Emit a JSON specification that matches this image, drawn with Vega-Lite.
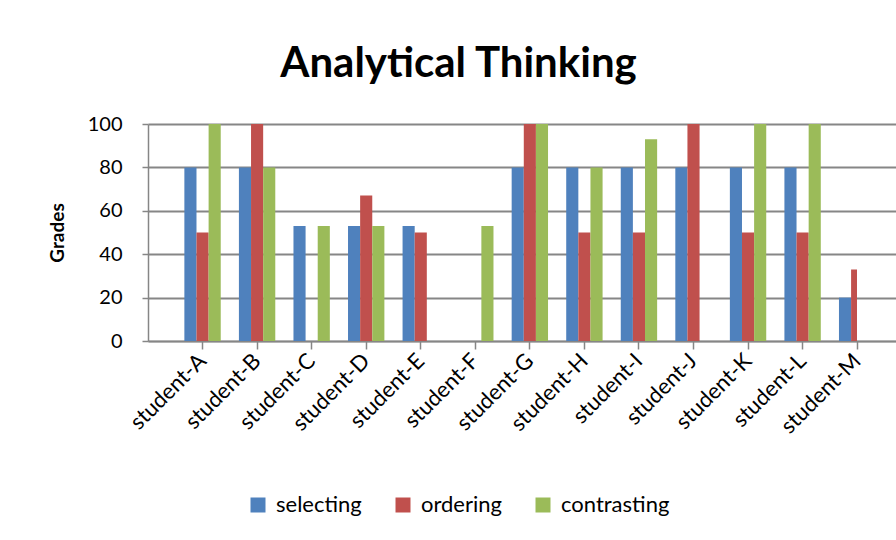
{
  "$schema": "https://vega.github.io/schema/vega-lite/v6.json",
  "autosize": {"type": "none"},
  "width": 709,
  "height": 217,
  "padding": {"left": 148, "top": 124, "right": 39, "bottom": 199},
  "background": "white",
  "title": {
    "text": "Analytical Thinking",
    "font": "Lato",
    "fontSize": 42,
    "fontWeight": "bold",
    "color": "#000000",
    "anchor": "middle",
    "frame": "group",
    "dx": -44,
    "offset": 28
  },
  "data": {
    "values": [
      {"student": "student-A", "measure": "selecting", "grade": 80},
      {"student": "student-A", "measure": "ordering", "grade": 50},
      {"student": "student-A", "measure": "contrasting", "grade": 100},
      {"student": "student-B", "measure": "selecting", "grade": 80},
      {"student": "student-B", "measure": "ordering", "grade": 100},
      {"student": "student-B", "measure": "contrasting", "grade": 80},
      {"student": "student-C", "measure": "selecting", "grade": 53},
      {"student": "student-C", "measure": "contrasting", "grade": 53},
      {"student": "student-D", "measure": "selecting", "grade": 53},
      {"student": "student-D", "measure": "ordering", "grade": 67},
      {"student": "student-D", "measure": "contrasting", "grade": 53},
      {"student": "student-E", "measure": "selecting", "grade": 53},
      {"student": "student-E", "measure": "ordering", "grade": 50},
      {"student": "student-F", "measure": "contrasting", "grade": 53},
      {"student": "student-G", "measure": "selecting", "grade": 80},
      {"student": "student-G", "measure": "ordering", "grade": 100},
      {"student": "student-G", "measure": "contrasting", "grade": 100},
      {"student": "student-H", "measure": "selecting", "grade": 80},
      {"student": "student-H", "measure": "ordering", "grade": 50},
      {"student": "student-H", "measure": "contrasting", "grade": 80},
      {"student": "student-I", "measure": "selecting", "grade": 80},
      {"student": "student-I", "measure": "ordering", "grade": 50},
      {"student": "student-I", "measure": "contrasting", "grade": 93},
      {"student": "student-J", "measure": "selecting", "grade": 80},
      {"student": "student-J", "measure": "ordering", "grade": 100},
      {"student": "student-K", "measure": "selecting", "grade": 80},
      {"student": "student-K", "measure": "ordering", "grade": 50},
      {"student": "student-K", "measure": "contrasting", "grade": 100},
      {"student": "student-L", "measure": "selecting", "grade": 80},
      {"student": "student-L", "measure": "ordering", "grade": 50},
      {"student": "student-L", "measure": "contrasting", "grade": 100},
      {"student": "student-M", "measure": "selecting", "grade": 20},
      {"student": "student-M", "measure": "ordering", "grade": 33}
    ]
  },
  "mark": {"type": "bar", "clip": true},
  "encoding": {
    "x": {
      "field": "student",
      "type": "nominal",
      "sort": null,
      "scale": {"type": "band", "paddingInner": 0, "paddingOuter": 0.5, "range": [0, 763.7]},
      "axis": {
        "title": null,
        "labelAngle": -45,
        "labelAlign": "right",
        "labelBaseline": "middle",
        "labelFont": "Lato",
        "labelFontSize": 22,
        "labelColor": "#000000",
        "labelPadding": 8,
        "domainColor": "#868686",
        "domainWidth": 1.5,
        "tickColor": "#868686",
        "tickSize": 8,
        "tickWidth": 1.5,
        "grid": false
      }
    },
    "xOffset": {
      "field": "measure",
      "type": "nominal",
      "sort": ["selecting", "ordering", "contrasting"],
      "scale": {"paddingInner": 0, "paddingOuter": 0.75}
    },
    "y": {
      "field": "grade",
      "type": "quantitative",
      "scale": {"domain": [0, 100], "nice": false},
      "axis": {
        "title": "Grades",
        "titleFont": "Lato",
        "titleFontSize": 19,
        "titleFontWeight": "bold",
        "titleColor": "#000000",
        "titlePadding": 20,
        "values": [0, 20, 40, 60, 80, 100],
        "labelFont": "Lato",
        "labelFontSize": 20,
        "labelColor": "#000000",
        "labelPadding": 20,
        "tickSize": 6,
        "tickColor": "#868686",
        "tickWidth": 1.5,
        "domainColor": "#868686",
        "domainWidth": 1.5,
        "grid": true,
        "gridColor": "#868686",
        "gridWidth": 2
      }
    },
    "color": {
      "field": "measure",
      "type": "nominal",
      "sort": ["selecting", "ordering", "contrasting"],
      "scale": {"domain": ["selecting", "ordering", "contrasting"], "range": ["#4F81BD", "#C0504D", "#9BBB59"]},
      "legend": {
        "title": null,
        "orient": "none",
        "legendX": 99,
        "legendY": 370,
        "direction": "horizontal",
        "symbolType": "square",
        "symbolSize": 225,
        "symbolStrokeWidth": 0,
        "labelFont": "Lato",
        "labelFontSize": 22,
        "labelColor": "#000000",
        "columnPadding": 30,
        "labelOffset": 7
      }
    }
  },
  "config": {
    "view": {"stroke": null},
    "axis": {"labelFlush": false}
  }
}
